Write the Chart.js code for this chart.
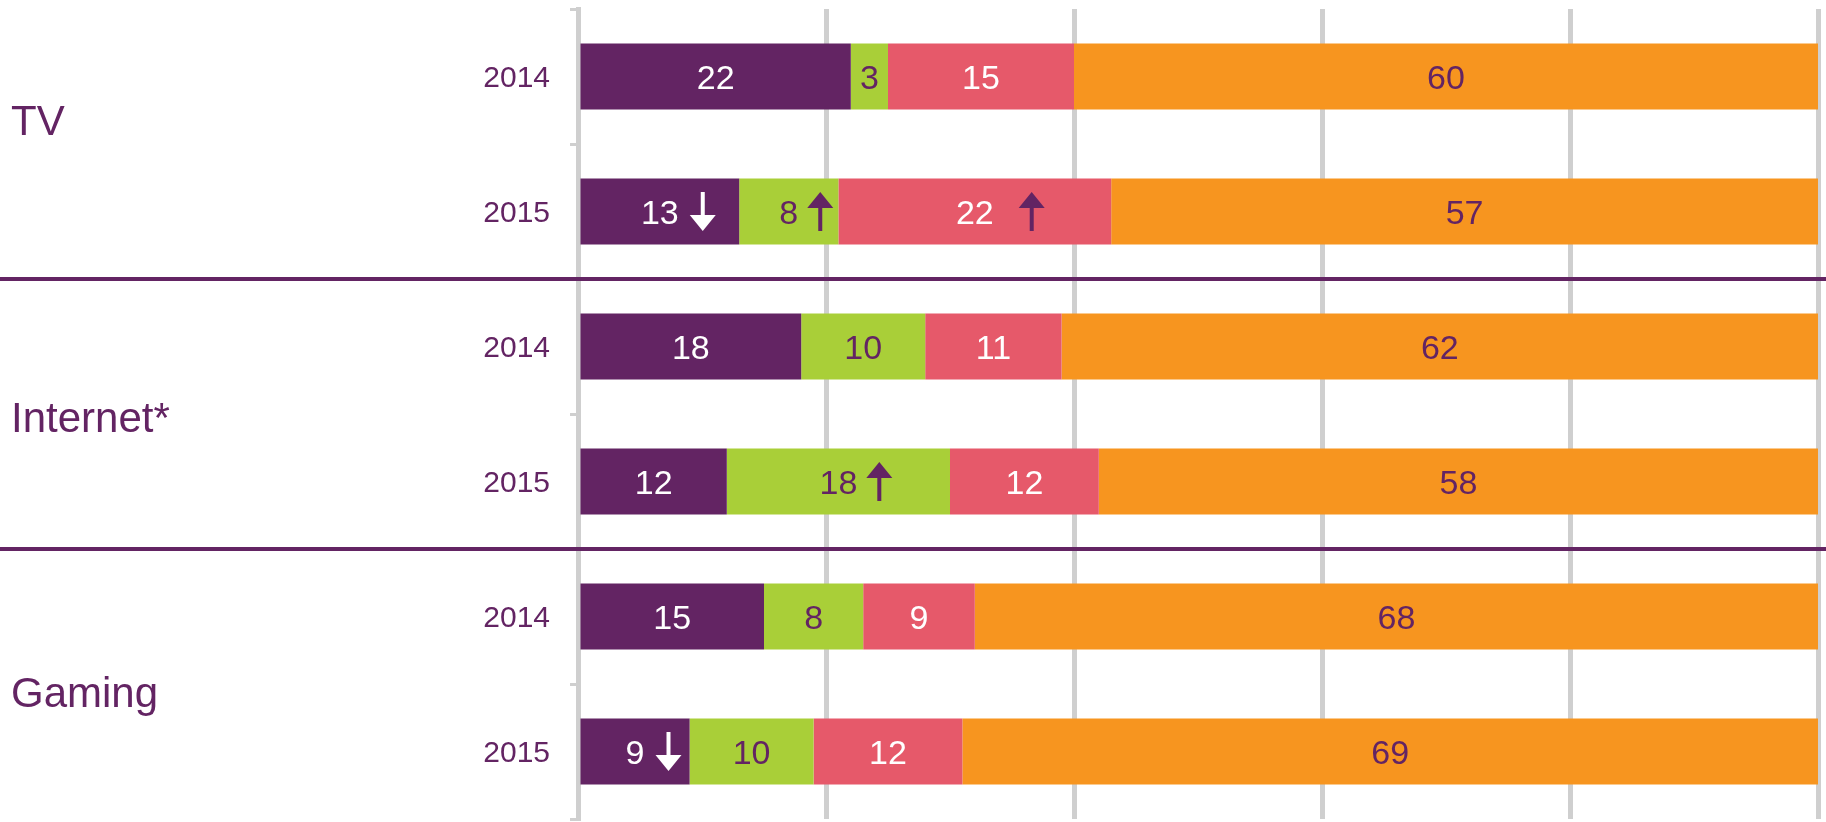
<!DOCTYPE html>
<html>
<head>
<meta charset="utf-8">
<script src="https://cdn.jsdelivr.net/npm/chart.js@4/dist/chart.umd.min.js"></script>
<style>
  html,body{margin:0;padding:0;background:#fff}
  #wrap{width:1826px;height:822px}
</style>
</head>
<body>
<div id="wrap"><canvas id="chart"></canvas></div>
<script>
// rows top to bottom
const years = ['2014','2015','2014','2015','2014','2015'];
const groups = ['TV','Internet*','Gaming'];

const seg1 = [22,13,18,12,15,9];
const seg2 = [3,8,10,18,8,10];
const seg3 = [15,22,11,12,9,12];
const seg4 = [60,57,62,58,68,69];

// change markers per segment
const trend1 = [null,'down',null,null,null,'down'];
const trend2 = [null,'up',null,'up',null,null];
const trend3 = [null,'up',null,null,null,null];
const trend4 = [null,null,null,null,null,null];

const PURPLE = '#632463';
const FONT = '"Liberation Sans", Arial, sans-serif';

function drawArrow(ctx, x, y, dir, color){
  const h = 39, hw = 13, hh = 16, sw = 4;
  const top = y - h/2, bot = y + h/2;
  ctx.fillStyle = color;
  ctx.beginPath();
  if(dir === 'up'){
    ctx.fillRect(x - sw/2, top + hh - 1, sw, h - hh + 1);
    ctx.moveTo(x, top); ctx.lineTo(x + hw, top + hh); ctx.lineTo(x - hw, top + hh);
  } else {
    ctx.fillRect(x - sw/2, top, sw, h - hh + 1);
    ctx.moveTo(x, bot); ctx.lineTo(x + hw, bot - hh); ctx.lineTo(x - hw, bot - hh);
  }
  ctx.closePath();
  ctx.fill();
}

const barLabels = {
  id: 'barLabels',
  afterDatasetsDraw(chart){
    const ctx = chart.ctx, area = chart.chartArea;
    ctx.save();
    ctx.font = '34px ' + FONT;
    ctx.textAlign = 'center';
    ctx.textBaseline = 'alphabetic';
    chart.data.datasets.forEach((ds, i) => {
      chart.getDatasetMeta(i).data.forEach((bar, j) => {
        const p = bar.getProps(['x','y','base'], true);
        const x1 = Math.min(p.x, area.right);
        const cx = (p.base + x1) / 2;
        const txt = String(ds.data[j]);
        ctx.fillStyle = ds.labelColor;
        ctx.fillText(txt, cx, p.y + 12);
        const t = ds.trend[j];
        if(t){
          const tw = ctx.measureText(txt).width;
          drawArrow(ctx, cx + tw/2 + ds.arrowGap, p.y, t, t === 'down' ? '#ffffff' : PURPLE);
        }
      });
    });
    ctx.restore();
  }
};

const groupDecor = {
  id: 'groupDecor',
  afterDraw(chart){
    const ctx = chart.ctx, y = chart.scales.y;
    ctx.save();
    // separators between groups
    ctx.strokeStyle = PURPLE;
    ctx.lineWidth = 4;
    [1,3].forEach(r => {
      const yy = (y.getPixelForValue(r) + y.getPixelForValue(r+1)) / 2;
      ctx.beginPath(); ctx.moveTo(0, yy); ctx.lineTo(chart.width, yy); ctx.stroke();
    });
    // group names
    const shift = [-9, 18, 23];
    ctx.fillStyle = PURPLE;
    ctx.font = '42px ' + FONT;
    ctx.textAlign = 'left';
    ctx.textBaseline = 'alphabetic';
    groups.forEach((g, k) => {
      const mid = (y.getPixelForValue(2*k) + y.getPixelForValue(2*k+1)) / 2;
      ctx.fillText(g, 11, mid + shift[k]);
    });
    ctx.restore();
  }
};

new Chart(document.getElementById('chart'), {
  type: 'bar',
  data: {
    labels: years,
    datasets: [
      {data: seg1, backgroundColor: '#632463', labelColor: '#ffffff', trend: trend1, arrowGap: 24},
      {data: seg2, backgroundColor: '#a9cf38', labelColor: PURPLE, trend: trend2, arrowGap: 22},
      {data: seg3, backgroundColor: '#e6596a', labelColor: '#ffffff', trend: trend3, arrowGap: 38},
      {data: seg4, backgroundColor: '#f7951f', labelColor: PURPLE, trend: trend4, arrowGap: 23}
    ]
  },
  options: {
    indexAxis: 'y',
    responsive: true,
    maintainAspectRatio: false,
    animation: false,
    layout: {padding: {top: 9, right: 8, bottom: 3, left: 0}},
    datasets: {bar: {categoryPercentage: 1, barPercentage: 0.49, borderWidth: 0}},
    plugins: {legend: {display: false}, tooltip: {enabled: false}},
    scales: {
      x: {
        stacked: true, min: 0, max: 100,
        ticks: {display: false, stepSize: 20},
        grid: {color: '#cfcfcf', lineWidth: 5, drawTicks: false},
        border: {display: false},
        afterFit: s => { s.height = 0; s.paddingLeft = 0; s.paddingRight = 0; }
      },
      y: {
        stacked: true,
        ticks: {color: PURPLE, font: {size: 30, family: FONT}, padding: 20, labelOffset: 2},
        grid: {drawOnChartArea: false, drawTicks: true, tickLength: 8, color: '#cfcfcf', lineWidth: 3},
        border: {display: true, color: '#cfcfcf', width: 5},
        afterFit: s => { s.width = 578; s.paddingTop = 0; s.paddingBottom = 0; }
      }
    }
  },
  plugins: [barLabels, groupDecor]
});
</script>
</body>
</html>
